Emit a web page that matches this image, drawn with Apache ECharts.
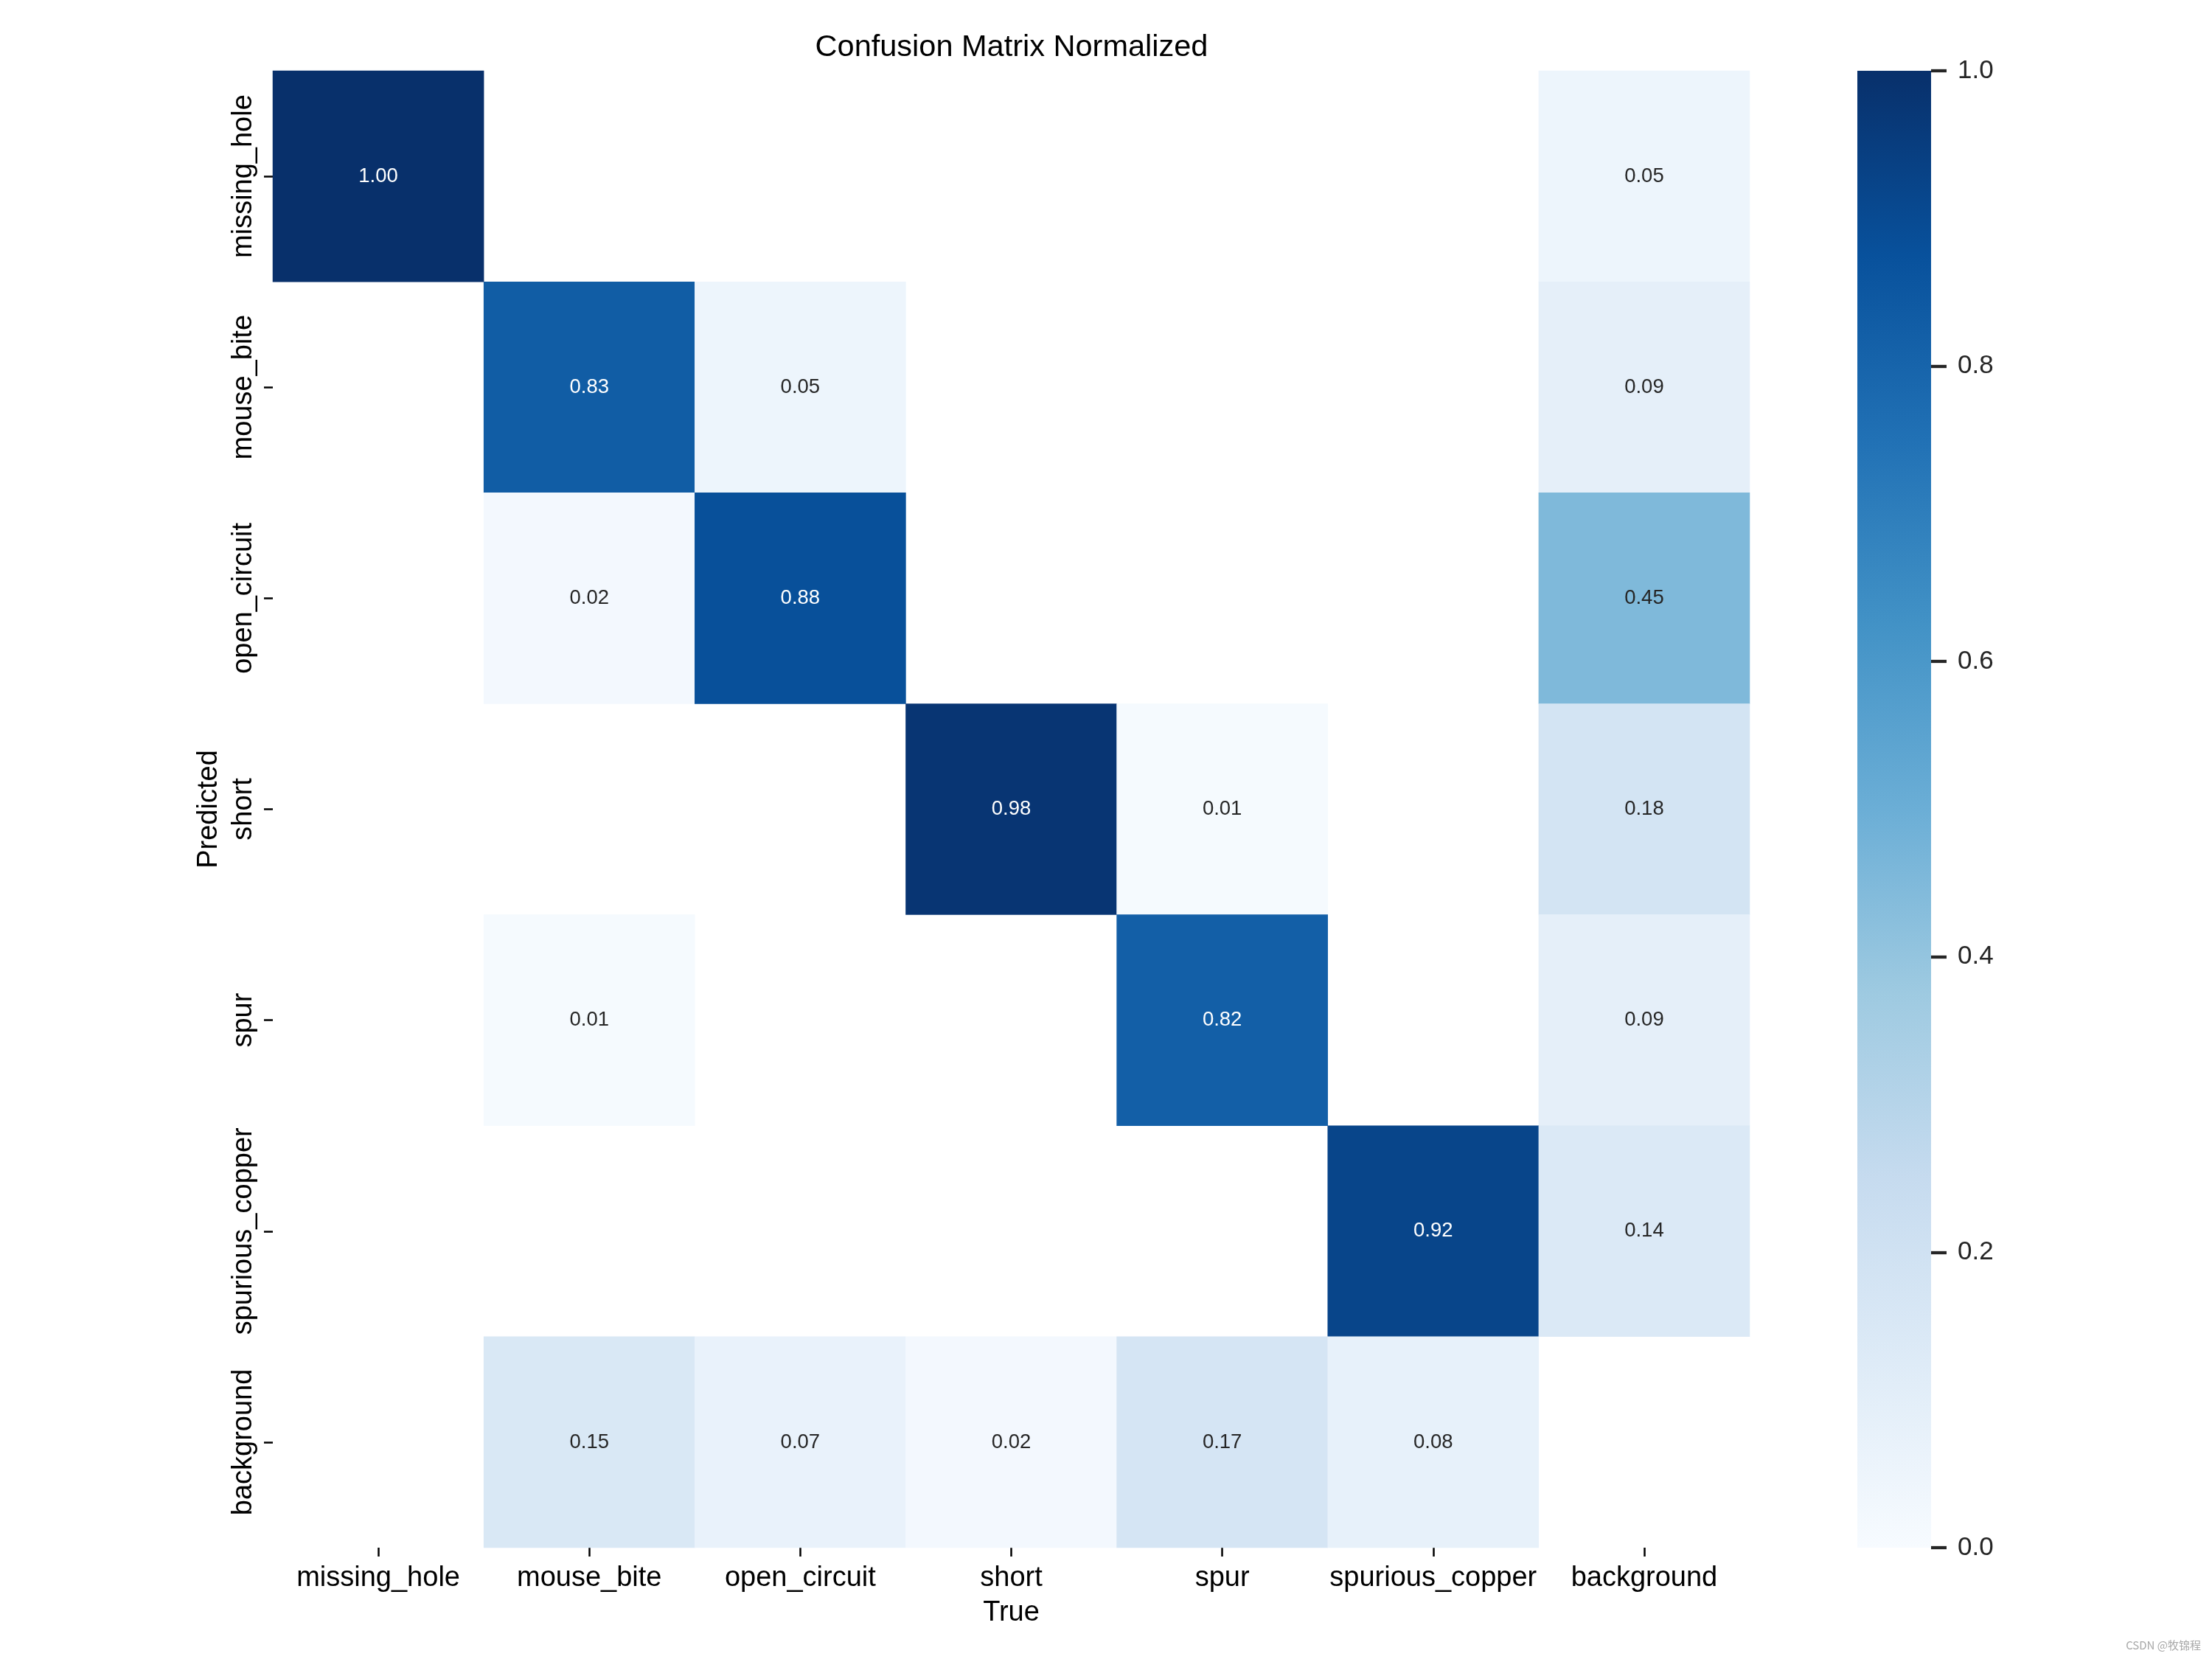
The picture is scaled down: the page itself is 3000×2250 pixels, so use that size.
<!DOCTYPE html>
<html>
<head>
<meta charset="utf-8">
<script src="https://cdn.jsdelivr.net/npm/echarts@6/dist/echarts.min.js"></script>
<style>html,body{margin:0;padding:0;background:#fff}#chart{width:3000px;height:2250px}</style>
</head>
<body>
<div id="chart"></div>
<script>
// Categories (True on x, Predicted on y)
const trueLabels = ['missing_hole', 'mouse_bite', 'open_circuit', 'short', 'spur', 'spurious_copper', 'background'];
const predictedLabels = ['missing_hole', 'mouse_bite', 'open_circuit', 'short', 'spur', 'spurious_copper', 'background'];

// Rows = predicted class, columns = true class (null = empty cell)
const rowMissingHole    = [1.00, null, null, null, null, null, 0.05];
const rowMouseBite      = [null, 0.83, 0.05, null, null, null, 0.09];
const rowOpenCircuit    = [null, 0.02, 0.88, null, null, null, 0.45];
const rowShort          = [null, null, null, 0.98, 0.01, null, 0.18];
const rowSpur           = [null, 0.01, null, null, 0.82, null, 0.09];
const rowSpuriousCopper = [null, null, null, null, null, 0.92, 0.14];
const rowBackground     = [null, 0.15, 0.07, 0.02, 0.17, 0.08, null];

// Colour bar range and ticks
const colorbarMin = 0;
const colorbarMax = 1;
const colorbarTicks = [0, 0.2, 0.4, 0.6, 0.8, 1.0];

const BLUES = ['#f7fbff', '#deebf7', '#c6dbef', '#9ecae1', '#6baed6', '#4292c6', '#2171b5', '#08519c', '#08306b'];

const rows = [rowMissingHole, rowMouseBite, rowOpenCircuit, rowShort, rowSpur, rowSpuriousCopper, rowBackground];
const heatData = [];
rows.forEach((row, yi) => {
  row.forEach((v, xi) => {
    if (v !== null) {
      heatData.push({
        value: [xi, yi, v],
        label: { color: v > 0.5 ? '#ffffff' : '#262626' }
      });
    }
  });
});

const gradientStops = BLUES.slice().reverse().map((c, i, a) => ({ offset: i / (a.length - 1), color: c }));

const FONT = '"Liberation Sans", Arial, sans-serif';
const chart = echarts.init(document.getElementById('chart'), null, { renderer: 'canvas' });
chart.setOption({
  backgroundColor: '#ffffff',
  animation: false,
  title: {
    text: 'Confusion Matrix Normalized',
    left: 1367,
    top: 39,
    textAlign: 'center',
    textStyle: { fontFamily: FONT, fontSize: 41.5, fontWeight: 'normal', color: '#000000' }
  },
  grid: [
    { left: 370, top: 96, width: 2003, height: 2003 },
    { left: 2519, top: 96, width: 100, height: 2003 }
  ],
  xAxis: [
    {
      type: 'category',
      gridIndex: 0,
      data: trueLabels,
      position: 'bottom',
      name: 'True',
      nameLocation: 'middle',
      nameGap: 70,
      nameTextStyle: { fontFamily: FONT, fontSize: 38, color: '#000000' },
      axisLine: { show: false },
      axisTick: { show: true, alignWithLabel: true, length: 12, lineStyle: { color: '#000000', width: 2.5 } },
      axisLabel: { fontFamily: FONT, fontSize: 38, color: '#000000', margin: 23, interval: 0 },
      splitLine: { show: false }
    },
    {
      type: 'category',
      gridIndex: 1,
      data: ['colorbar'],
      show: false,
      boundaryGap: true
    }
  ],
  yAxis: [
    {
      type: 'category',
      gridIndex: 0,
      data: predictedLabels,
      inverse: true,
      name: 'Predicted',
      nameLocation: 'middle',
      nameGap: 67,
      nameRotate: 90,
      nameTextStyle: { fontFamily: FONT, fontSize: 38, color: '#000000' },
      axisLine: { show: false },
      axisTick: { show: true, alignWithLabel: true, length: 12, lineStyle: { color: '#000000', width: 2.5 } },
      axisLabel: { fontFamily: FONT, fontSize: 38, color: '#000000', margin: 20, rotate: 90, interval: 0 },
      splitLine: { show: false }
    },
    {
      type: 'value',
      gridIndex: 1,
      position: 'right',
      min: colorbarMin,
      max: colorbarMax,
      interval: 0.2,
      axisLine: { show: false },
      axisTick: { show: true, length: 21, lineStyle: { color: '#262626', width: 4.3 } },
      axisLabel: {
        fontFamily: FONT, fontSize: 35, color: '#262626', margin: 36,
        formatter: v => colorbarTicks.some(t => Math.abs(t - v) < 1e-9) ? v.toFixed(1) : ''
      },
      splitLine: { show: false }
    }
  ],
  visualMap: {
    type: 'continuous',
    show: false,
    min: colorbarMin,
    max: colorbarMax,
    seriesIndex: 0,
    inRange: { color: BLUES }
  },
  series: [
    {
      type: 'heatmap',
      xAxisIndex: 0,
      yAxisIndex: 0,
      data: heatData,
      label: {
        show: true,
        fontFamily: FONT,
        fontSize: 27.5,
        formatter: p => p.value[2].toFixed(2)
      },
      itemStyle: { borderWidth: 0 },
      emphasis: { disabled: true }
    },
    {
      type: 'bar',
      xAxisIndex: 1,
      yAxisIndex: 1,
      data: [colorbarMax],
      barWidth: '100%',
      silent: true,
      itemStyle: {
        color: new echarts.graphic.LinearGradient(0, 0, 0, 1, gradientStops)
      }
    }
  ],
  graphic: [
    {
      type: 'text',
      right: 15,
      top: 2224,
      style: {
        text: 'CSDN @牧锦程',
        fontFamily: '"Noto Sans CJK SC", "Liberation Sans", sans-serif',
        fontSize: 15,
        fill: '#a8a8a8'
      }
    }
  ]
});
</script>
</body>
</html>
